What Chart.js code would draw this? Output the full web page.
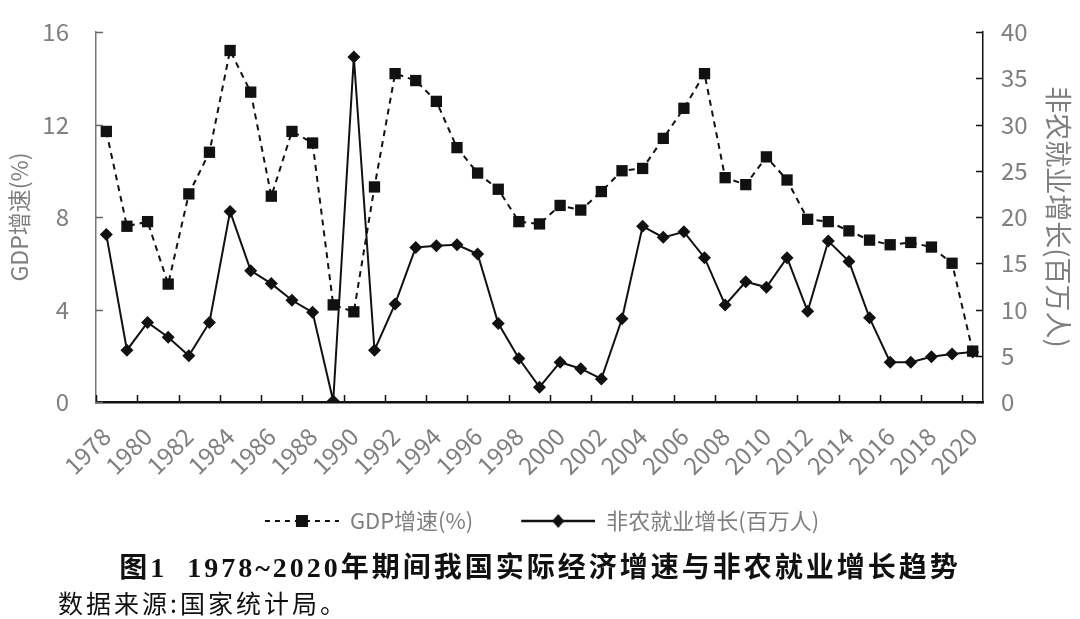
<!DOCTYPE html>
<html>
<head>
<meta charset="utf-8">
<script src="https://cdn.jsdelivr.net/npm/chart.js"></script>
<style>
    body { margin: 0; background: #fff; }
    #wrap { position: relative; width: 1080px; height: 619px; }
    #cap1 {
        position: absolute; left: 0; width: 1080px; top: 552px; text-align: center;
        font-family: "Liberation Serif", "Noto Sans CJK SC"; font-weight: bold;
        font-size: 28px; line-height: 32px; color: #111; letter-spacing: 3px;
    }
    #cap2 {
        position: absolute; left: 58px; top: 587px;
        font-family: "Noto Sans CJK SC"; font-size: 25px; line-height: 30px; color: #111;
        letter-spacing: 3px;
    }
</style>
</head>
<body>
<div id="wrap">
    <canvas id="trendChart" width="1080" height="619"></canvas>
    <div id="cap1">图1&nbsp;&nbsp;1978~2020年期间我国实际经济增速与非农就业增长趋势</div>
    <div id="cap2">数据来源:国家统计局。</div>
</div>
<script>
const years = ['1978','1979','1980','1981','1982','1983','1984','1985','1986','1987',
    '1988','1989','1990','1991','1992','1993','1994','1995','1996','1997',
    '1998','1999','2000','2001','2002','2003','2004','2005','2006','2007',
    '2008','2009','2010','2011','2012','2013','2014','2015','2016','2017',
    '2018','2019','2020'];

// GDP增速(%) - left axis
const gdpGrowth = [11.7, 7.6, 7.8, 5.1, 9.0, 10.8, 15.2, 13.4, 8.9, 11.7,
    11.2, 4.2, 3.9, 9.3, 14.2, 13.9, 13.0, 11.0, 9.9, 9.2,
    7.8, 7.7, 8.5, 8.3, 9.1, 10.0, 10.1, 11.4, 12.7, 14.2,
    9.7, 9.4, 10.6, 9.6, 7.9, 7.8, 7.4, 7.0, 6.8, 6.9,
    6.7, 6.0, 2.2];

// 非农就业增长(百万人) - right axis
const jobGrowth = [18.1, 5.6, 8.6, 7.0, 5.0, 8.6, 20.6, 14.2, 12.8, 11.0,
    9.7, 0.1, 37.3, 5.6, 10.6, 16.7, 16.9, 17.0, 16.0, 8.5,
    4.7, 1.6, 4.3, 3.6, 2.5, 9.0, 19.0, 17.8, 18.4, 15.6,
    10.5, 13.0, 12.4, 15.6, 9.8, 17.4, 15.2, 9.1, 4.3, 4.3,
    4.9, 5.2, 5.4];

const gdpLabel = 'GDP增速(%)';
const jobLabel = '非农就业增长(百万人)';

const gray = '#7f7f7f';
const ink = '#111';
const cjk = '"Noto Sans CJK SC", "Noto Sans", sans-serif';

// legend samples: line with marker in the middle, blank margin on the left
function legendSample(dashed, marker) {
    const c = document.createElement('canvas');
    c.width = 112; c.height = 20;
    const g = c.getContext('2d');
    const x0 = 38, x1 = 112, mid = 75;
    g.strokeStyle = ink; g.fillStyle = ink;
    g.lineWidth = dashed ? 2 : 2.5;
    if (dashed) g.setLineDash([5, 5]);
    g.beginPath(); g.moveTo(x0, 10); g.lineTo(x1, 10); g.stroke();
    g.setLineDash([]);
    if (marker === 'rect') {
        g.fillRect(mid - 6, 4, 12, 12);
    } else {
        g.beginPath();
        g.moveTo(mid, 3); g.lineTo(mid + 6, 10); g.lineTo(mid, 17); g.lineTo(mid - 6, 10);
        g.closePath(); g.fill();
    }
    return c;
}

// tick marks pointing into the plot
const innerTicks = {
    id: 'innerTicks',
    afterLayout(chart) {
        // the blank margin of the first sample would push the legend right
        chart.legend.left -= 34;
    },
    afterDraw(chart) {
        const {ctx, chartArea, scales} = chart;
        ctx.save();
        ctx.lineWidth = 1.5;
        ctx.strokeStyle = ink;
        const x = scales.x;
        const half = (x.getPixelForValue(1) - x.getPixelForValue(0)) / 2;
        for (let i = 0; i < years.length; i += 2) {
            const px = Math.round(x.getPixelForValue(i) - half) + 0.5;
            ctx.beginPath(); ctx.moveTo(px, chartArea.bottom); ctx.lineTo(px, chartArea.bottom - 7); ctx.stroke();
        }
        ctx.strokeStyle = '#666';
        scales.y.ticks.forEach(t => {
            const py = Math.round(scales.y.getPixelForValue(t.value)) + 0.5;
            ctx.beginPath(); ctx.moveTo(chartArea.left, py); ctx.lineTo(chartArea.left + 7, py); ctx.stroke();
        });
        ctx.strokeStyle = ink;
        scales.y1.ticks.forEach(t => {
            const py = Math.round(scales.y1.getPixelForValue(t.value)) + 0.5;
            ctx.beginPath(); ctx.moveTo(chartArea.right, py); ctx.lineTo(chartArea.right - 7, py); ctx.stroke();
        });
        ctx.restore();
    }
};

const chart_data = {
    labels: years,
    datasets: [{
        label: gdpLabel,
        data: gdpGrowth,
        yAxisID: 'y',
        borderColor: ink,
        backgroundColor: ink,
        borderWidth: 2,
        borderDash: [6, 5],
        pointStyle: 'rect',
        pointRadius: 8,
        pointBorderWidth: 0,
        tension: 0
    }, {
        label: jobLabel,
        data: jobGrowth,
        yAxisID: 'y1',
        borderColor: ink,
        backgroundColor: ink,
        borderWidth: 2,
        pointStyle: 'rectRot',
        pointRadius: 6.5,
        pointBorderWidth: 0,
        tension: 0
    }]
};

const config = {
    type: 'line',
    data: chart_data,
    options: {
        responsive: false,
        animation: false,
        layout: { padding: { top: 32, left: 0, right: 0, bottom: 77 } },
        plugins: {
            tooltip: { enabled: false },
            legend: {
                position: 'bottom',
                labels: {
                    usePointStyle: true,
                    pointStyleWidth: 112,
                    boxHeight: 20,
                    padding: 10,
                    color: gray,
                    font: { family: cjk, size: 22 },
                    generateLabels() {
                        return [
                            { text: gdpLabel, pointStyle: legendSample(true, 'rect'), fontColor: gray, lineWidth: 0, strokeStyle: 'rgba(0,0,0,0)', fillStyle: 'rgba(0,0,0,0)', datasetIndex: 0 },
                            { text: jobLabel, pointStyle: legendSample(false, 'diamond'), fontColor: gray, lineWidth: 0, strokeStyle: 'rgba(0,0,0,0)', fillStyle: 'rgba(0,0,0,0)', datasetIndex: 1 }
                        ];
                    }
                }
            }
        },
        scales: {
            x: {
                type: 'category',
                offset: true,
                grid: { display: false },
                border: { display: true, color: ink, width: 2.5 },
                ticks: {
                    autoSkip: false,
                    minRotation: 45,
                    maxRotation: 45,
                    padding: 12,
                    color: gray,
                    font: { family: cjk, size: 24 },
                    callback(v, i) { return i % 2 === 0 ? years[i] : ''; }
                },
                afterFit(s) { s.height = 98; }
            },
            y: {
                position: 'left',
                min: 0, max: 16,
                grid: { display: false, tickLength: 27 },
                border: { display: true, color: '#777', width: 1.5 },
                ticks: { stepSize: 4, padding: 0, color: gray, font: { family: cjk, size: 24 } },
                title: { display: true, text: gdpLabel, color: gray, font: { family: cjk, size: 23 }, padding: { top: 5, bottom: 0 } },
                afterFit(s) { s.width = 96; }
            },
            y1: {
                position: 'right',
                min: 0, max: 40,
                grid: { display: false, tickLength: 18 },
                border: { display: true, color: ink, width: 1.5 },
                ticks: { stepSize: 5, padding: 0, color: gray, font: { family: cjk, size: 24 } },
                title: { display: true, text: jobLabel, color: gray, font: { family: cjk, size: 27 }, padding: { top: 6, bottom: 0 } },
                afterFit(s) { s.width = 97; }
            }
        }
    },
    plugins: [innerTicks]
};

const myChart = new Chart(document.getElementById('trendChart'), config);
</script>
</body>
</html>
